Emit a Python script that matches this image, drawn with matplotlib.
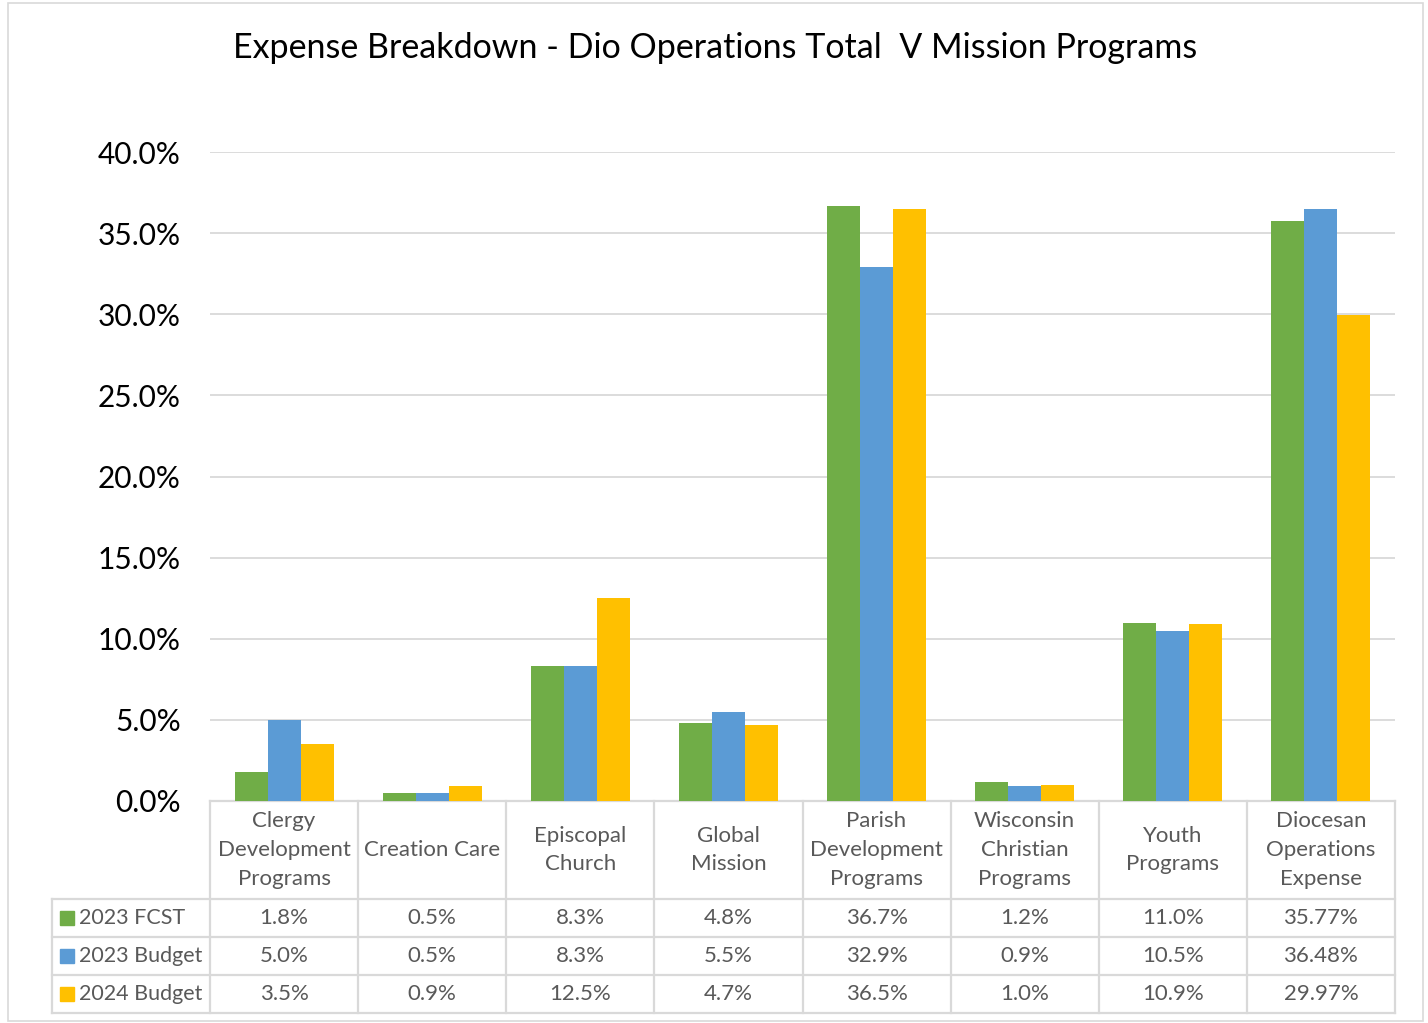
import matplotlib
matplotlib.use("Agg")
import matplotlib.pyplot as plt
from matplotlib.patches import Rectangle
from matplotlib.lines import Line2D
import numpy as np

categories = ["Clergy\nDevelopment\nPrograms", "Creation Care", "Episcopal\nChurch",
              "Global\nMission", "Parish\nDevelopment\nPrograms", "Wisconsin\nChristian\nPrograms",
              "Youth\nPrograms", "Diocesan\nOperations\nExpense"]
series_names = ["2023 FCST", "2023 Budget", "2024 Budget"]
fcst_2023 = [1.8, 0.5, 8.3, 4.8, 36.7, 1.2, 11.0, 35.77]
budget_2023 = [5.0, 0.5, 8.3, 5.5, 32.9, 0.9, 10.5, 36.48]
budget_2024 = [3.5, 0.9, 12.5, 4.7, 36.5, 1.0, 10.9, 29.97]
labels_fcst_2023 = ["1.8%", "0.5%", "8.3%", "4.8%", "36.7%", "1.2%", "11.0%", "35.77%"]
labels_budget_2023 = ["5.0%", "0.5%", "8.3%", "5.5%", "32.9%", "0.9%", "10.5%", "36.48%"]
labels_budget_2024 = ["3.5%", "0.9%", "12.5%", "4.7%", "36.5%", "1.0%", "10.9%", "29.97%"]
yticks = [0, 5, 10, 15, 20, 25, 30, 35, 40]
title = "Expense Breakdown - Dio Operations Total  V Mission Programs"

colors = ["#70AD47", "#5B9BD5", "#FFC000"]
grid_c = "#D9D9D9"
txt_c = "#595959"
FONT = ["Lato", "DejaVu Sans"]
plt.rcParams["font.family"] = FONT

W, H = 1428, 1023
fig = plt.figure(figsize=(W / 100, H / 100), dpi=100)

def fx(px):
    return px / W

def fy(py):
    return 1 - py / H

# outer border
fig.patches.append(Rectangle((fx(8), fy(1021)), fx(1423) - fx(8), fy(3) - fy(1021),
                             transform=fig.transFigure, fill=False, edgecolor="#D9D9D9", lw=1.2))

ax_l, ax_r, ax_t, ax_b = 210, 1395, 152, 801
ax = fig.add_axes([fx(ax_l), fy(ax_b), fx(ax_r) - fx(ax_l), fy(ax_t) - fy(ax_b)])

n = len(categories)
x = np.arange(n)
bw = 0.223
all_series = [fcst_2023, budget_2023, budget_2024]
for i, (vals, c) in enumerate(zip(all_series, colors)):
    ax.bar(x + (i - 1) * bw, vals, width=bw, color=c, zorder=3)

ax.set_xlim(-0.5, n - 0.5)
ax.set_ylim(0, 40)
ax.set_yticks(yticks)
ax.set_yticklabels([f"{v:.1f}%" for v in yticks], fontsize=21.5, color="black")
ax.tick_params(axis="y", length=0, pad=21)
ax.tick_params(axis="x", length=0, labelbottom=False)
ax.yaxis.grid(True, color=grid_c, lw=1.3, zorder=0)
for s in ["top", "right", "left"]:
    ax.spines[s].set_visible(False)
ax.spines["bottom"].set_color(grid_c)
ax.spines["bottom"].set_linewidth(1.6)

fig.text(0.5 * (fx(237) + fx(1193)), fy(48), title, ha="center", va="center",
         fontsize=24.5, color="black")

# data table
col_edges_px = [ax_l + (ax_r - ax_l) * k / n for k in range(n + 1)]
header_bot = 899
row_edges = [899, 937, 975, 1013]
tab_left = 52
lw = 1.6

def hline(x0, x1, y):
    fig.add_artist(Line2D([fx(x0), fx(x1)], [fy(y), fy(y)], transform=fig.transFigure,
                          color=grid_c, lw=lw))

def vline(xp, y0, y1):
    fig.add_artist(Line2D([fx(xp), fx(xp)], [fy(y0), fy(y1)], transform=fig.transFigure,
                          color=grid_c, lw=lw))

for xe in col_edges_px:
    vline(xe, ax_b, row_edges[-1])
vline(tab_left, row_edges[0], row_edges[-1])
for ye in row_edges:
    hline(tab_left, ax_r, ye)

for k, cat in enumerate(categories):
    cx = 0.5 * (col_edges_px[k] + col_edges_px[k + 1])
    fig.text(fx(cx), fy(0.5 * (ax_b + header_bot)), cat, ha="center", va="center",
             fontsize=16, color=txt_c, linespacing=1.55)

all_labels = [labels_fcst_2023, labels_budget_2023, labels_budget_2024]
for r, (name, labs, c) in enumerate(zip(series_names, all_labels, colors)):
    cy = 0.5 * (row_edges[r] + row_edges[r + 1])
    fig.patches.append(Rectangle((fx(60), fy(cy + 7)), fx(14), fy(0) - fy(14),
                                 transform=fig.transFigure, color=c))
    fig.text(fx(79), fy(cy), name, ha="left", va="center", fontsize=15.5, color=txt_c)
    for k, lab in enumerate(labs):
        cx = 0.5 * (col_edges_px[k] + col_edges_px[k + 1])
        fig.text(fx(cx), fy(cy), lab, ha="center", va="center", fontsize=16, color=txt_c)

fig.savefig("out.png", dpi=100)
